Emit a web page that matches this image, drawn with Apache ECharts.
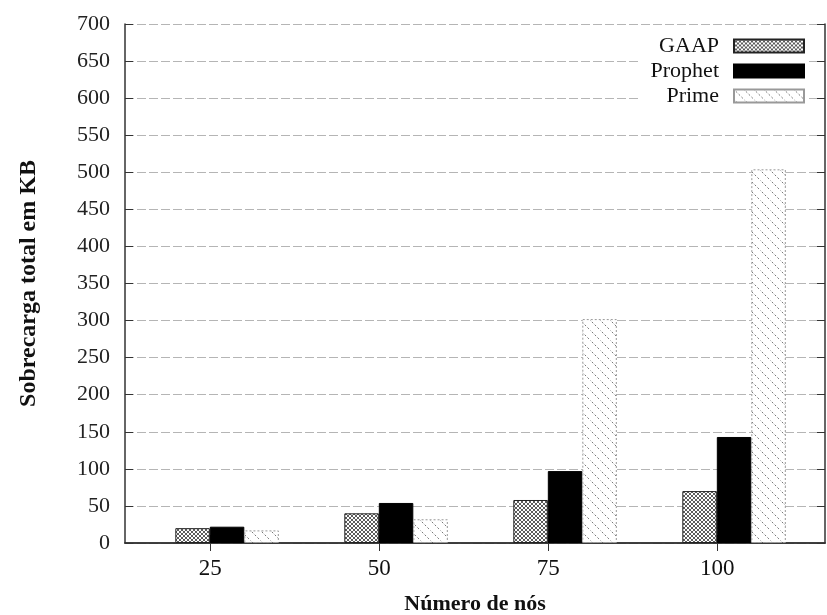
<!DOCTYPE html>
<html><head><meta charset="utf-8">
<script src="https://cdn.jsdelivr.net/npm/echarts@6/dist/echarts.min.js"></script>
<style>html,body{margin:0;padding:0;background:#fff}#c{width:827px;height:615px}</style>
</head><body><div id="c"></div>
<script>
const categories = ['25', '50', '75', '100'];
const seriesNames = ['GAAP', 'Prophet', 'Prime'];
const gaap = [20, 40, 58, 70];
const prophet = [22, 54, 97, 143];
const prime = [17, 32, 302, 504];
const yMin = 0, yMax = 700, yStep = 50;
const xTitle = 'Número de nós';
const yTitle = 'Sobrecarga total em KB';

// category positions on a numeric x-axis (1..n), label offset to the left of cluster center
const xPos = categories.map((c, i) => i + 1);
const labelPos = xPos.map(p => +(p - 0.1).toFixed(2));
const XMIN = 0.396, XMAX = 4.538;

function crossPattern() {
  const c = document.createElement('canvas'); c.width = 4; c.height = 4;
  const g = c.getContext('2d');
  g.fillStyle = '#fff'; g.fillRect(0, 0, 4, 4);
  g.strokeStyle = '#333'; g.lineWidth = 0.8;
  g.beginPath(); g.moveTo(0, 0); g.lineTo(4, 4); g.moveTo(4, 0); g.lineTo(0, 4); g.stroke();
  return c;
}
function diagPattern() {
  const n = 10;
  const c = document.createElement('canvas'); c.width = n; c.height = n;
  const g = c.getContext('2d');
  g.fillStyle = '#fff'; g.fillRect(0, 0, n, n);
  g.strokeStyle = '#777'; g.lineWidth = 1;
  g.setLineDash([2, 2]);
  g.beginPath(); g.moveTo(-1, -1); g.lineTo(n + 1, n + 1); g.stroke();
  return c;
}

const fontFam = '"Liberation Serif", "DejaVu Serif", serif';
const xy = (arr) => arr.map((v, i) => [xPos[i], v]);

const chart = echarts.init(document.getElementById('c'), null, {renderer: 'canvas'});
const labelMap = {};
labelPos.forEach((p, i) => labelMap[p] = categories[i]);

chart.setOption({
  animation: false,
  backgroundColor: '#fff',
  grid: {left: 125, right: 2, top: 24, bottom: 72, show: false, containLabel: false, outerBoundsMode: 'none'},
  legend: {
    data: seriesNames, orient: 'vertical', right: 20, top: 31, align: 'right',
    itemWidth: 70, itemHeight: 13, itemGap: 3, icon: 'rect',
    backgroundColor: '#fff', padding: [4, 2, 4, 10],
    textStyle: {fontFamily: fontFam, fontSize: 22, color: '#111', padding: [0, 10, 0, 0]}
  },
  xAxis: [{
    type: 'value', min: XMIN, max: XMAX, position: 'bottom',
    name: xTitle, nameLocation: 'middle', nameGap: 50,
    nameTextStyle: {fontFamily: fontFam, fontSize: 22, fontWeight: 'bold', color: '#111'},
    axisLine: {show: true, onZero: false, lineStyle: {color: '#333', width: 1.5}},
    axisTick: {show: true, inside: true, length: 8, customValues: labelPos, lineStyle: {color: '#333'}},
    axisLabel: {customValues: labelPos, margin: 14, fontFamily: fontFam, fontSize: 23, color: '#111',
      formatter: v => labelMap[+v.toFixed(2)] || ''},
    splitLine: {show: false}
  }, {
    type: 'value', min: XMIN, max: XMAX, position: 'top',
    axisLine: {show: true, lineStyle: {color: '#333', width: 1.5}},
    axisTick: {show: true, inside: true, length: 8, customValues: labelPos, lineStyle: {color: '#333'}},
    axisLabel: {show: false}, splitLine: {show: false}
  }],
  yAxis: [{
    type: 'value', min: yMin, max: yMax, interval: yStep, position: 'left',
    name: yTitle, nameLocation: 'middle', nameGap: 84,
    nameTextStyle: {fontFamily: fontFam, fontSize: 24, fontWeight: 'bold', color: '#111'},
    axisLine: {show: true, lineStyle: {color: '#333', width: 1.5}},
    axisTick: {show: true, inside: true, length: 8, lineStyle: {color: '#333'}},
    axisLabel: {margin: 15, fontFamily: fontFam, fontSize: 22, color: '#222'},
    splitLine: {show: true, lineStyle: {color: '#b5b5b5', width: 1, type: [9, 3]}}
  }, {
    type: 'value', min: yMin, max: yMax, interval: yStep, position: 'right',
    axisLine: {show: true, lineStyle: {color: '#333', width: 1.5}},
    axisTick: {show: true, inside: true, length: 8, lineStyle: {color: '#333'}},
    axisLabel: {show: false}, splitLine: {show: false}
  }],
  series: [{
    name: seriesNames[0], type: 'bar', data: xy(gaap), barWidth: 34.5, barGap: '0%',
    itemStyle: {color: {image: crossPattern(), repeat: 'repeat'}, borderColor: '#222', borderWidth: 1}
  }, {
    name: seriesNames[1], type: 'bar', data: xy(prophet), barWidth: 34.5, barGap: '0%',
    itemStyle: {color: '#000', borderColor: '#000', borderWidth: 1}
  }, {
    name: seriesNames[2], type: 'bar', data: xy(prime), barWidth: 34.5, barGap: '0%',
    itemStyle: {color: {image: diagPattern(), repeat: 'repeat'}, borderColor: '#999', borderWidth: 1, borderType: [2, 2]}
  }]
});
</script></body></html>
